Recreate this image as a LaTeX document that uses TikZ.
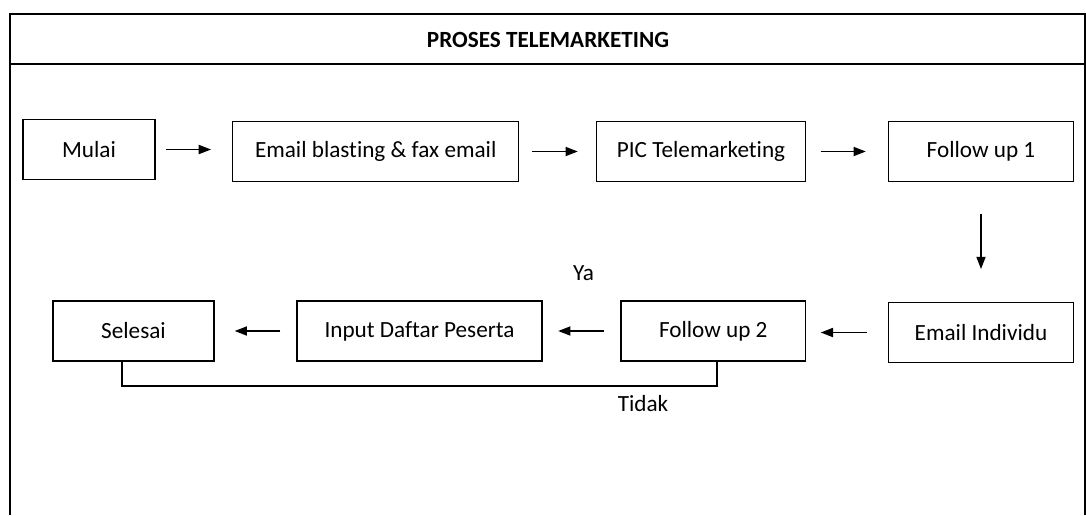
\documentclass[tikz,border=0pt]{standalone}
\usepackage{fontspec}
\setmainfont{Carlito}[Ligatures=NoCommon]
\usetikzlibrary{arrows.meta}

\begin{document}
\begin{tikzpicture}[x=0.02cm,y=-0.02cm,
  box/.style={draw,line width=0.8pt,inner sep=0pt,minimum height=1.19cm,font=\fontsize{13.2}{16}\selectfont},
  lbl/.style={font=\fontsize{13.2}{16}\selectfont},
  arr/.style={line width=0.8pt,-{Triangle[length=7pt,width=5.2pt]}}]
\useasboundingbox (0,0) rectangle (1086,515);

% Frame
\draw[line width=1pt] (10,515) -- (10,14) -- (1085,14) -- (1085,515);
\draw[line width=1pt] (10,64) -- (1085,64);
\node[font=\bfseries\fontsize{13.2}{16}\selectfont] (title) at (548,40) {PROSES TELEMARKETING};

% Top row
\node[box,minimum width=2.64cm] (mulai) at (89,149.5) {Mulai};
\node[box,minimum width=5.72cm] (email) at (375.7,151.5) {Email blasting \& fax email};
\node[box,minimum width=4.18cm] (pic) at (701,151.5) {PIC Telemarketing};
\node[box,minimum width=3.7cm] (fu1) at (981,151.5) {Follow up 1};

% Bottom row
\node[box,minimum width=3.7cm] (ei) at (981,332.5) {Email Individu};
\node[box,minimum width=3.69cm,minimum height=1.2cm] (fu2) at (713.3,331) {Follow up 2};
\node[box,minimum width=4.9cm,minimum height=1.2cm] (input) at (419.5,331) {Input Daftar Peserta};
\node[box,minimum width=3.22cm,minimum height=1.2cm] (selesai) at (133.5,331) {Selesai};

% Arrows
\draw[arr,shorten <=0.2cm,shorten >=0.42cm] (mulai.east) -- (mulai.east -| email.west);
\draw[arr,shorten <=0.26cm,shorten >=0.36cm] (email.east) -- (email.east -| pic.west);
\draw[arr,shorten <=0.29cm,shorten >=0.44cm] (pic.east) -- (pic.east -| fu1.west);
\draw[arr,shorten <=0.64cm,shorten >=0.66cm] (fu1.south) -- (ei.north);
\draw[arr,shorten <=0.42cm,shorten >=0.29cm] (ei.west) -- (ei.west -| fu2.east);
\draw[arr,shorten <=0.32cm,shorten >=0.31cm] (fu2.west) -- (fu2.west -| input.east);
\draw[arr,shorten <=0.32cm,shorten >=0.4cm] (input.west) -- (input.west -| selesai.east);

% Tidak line
\coordinate (tdk) at (717,386);
\draw[line width=0.8pt] ([xshift=-0.23cm]selesai.south) |- (tdk) -- (tdk |- fu2.south);

% Labels
\node[lbl] (ya) at (583.5,273) {Ya};
\node[lbl] (tidak) at (643,404) {Tidak};
\end{tikzpicture}
\end{document}
